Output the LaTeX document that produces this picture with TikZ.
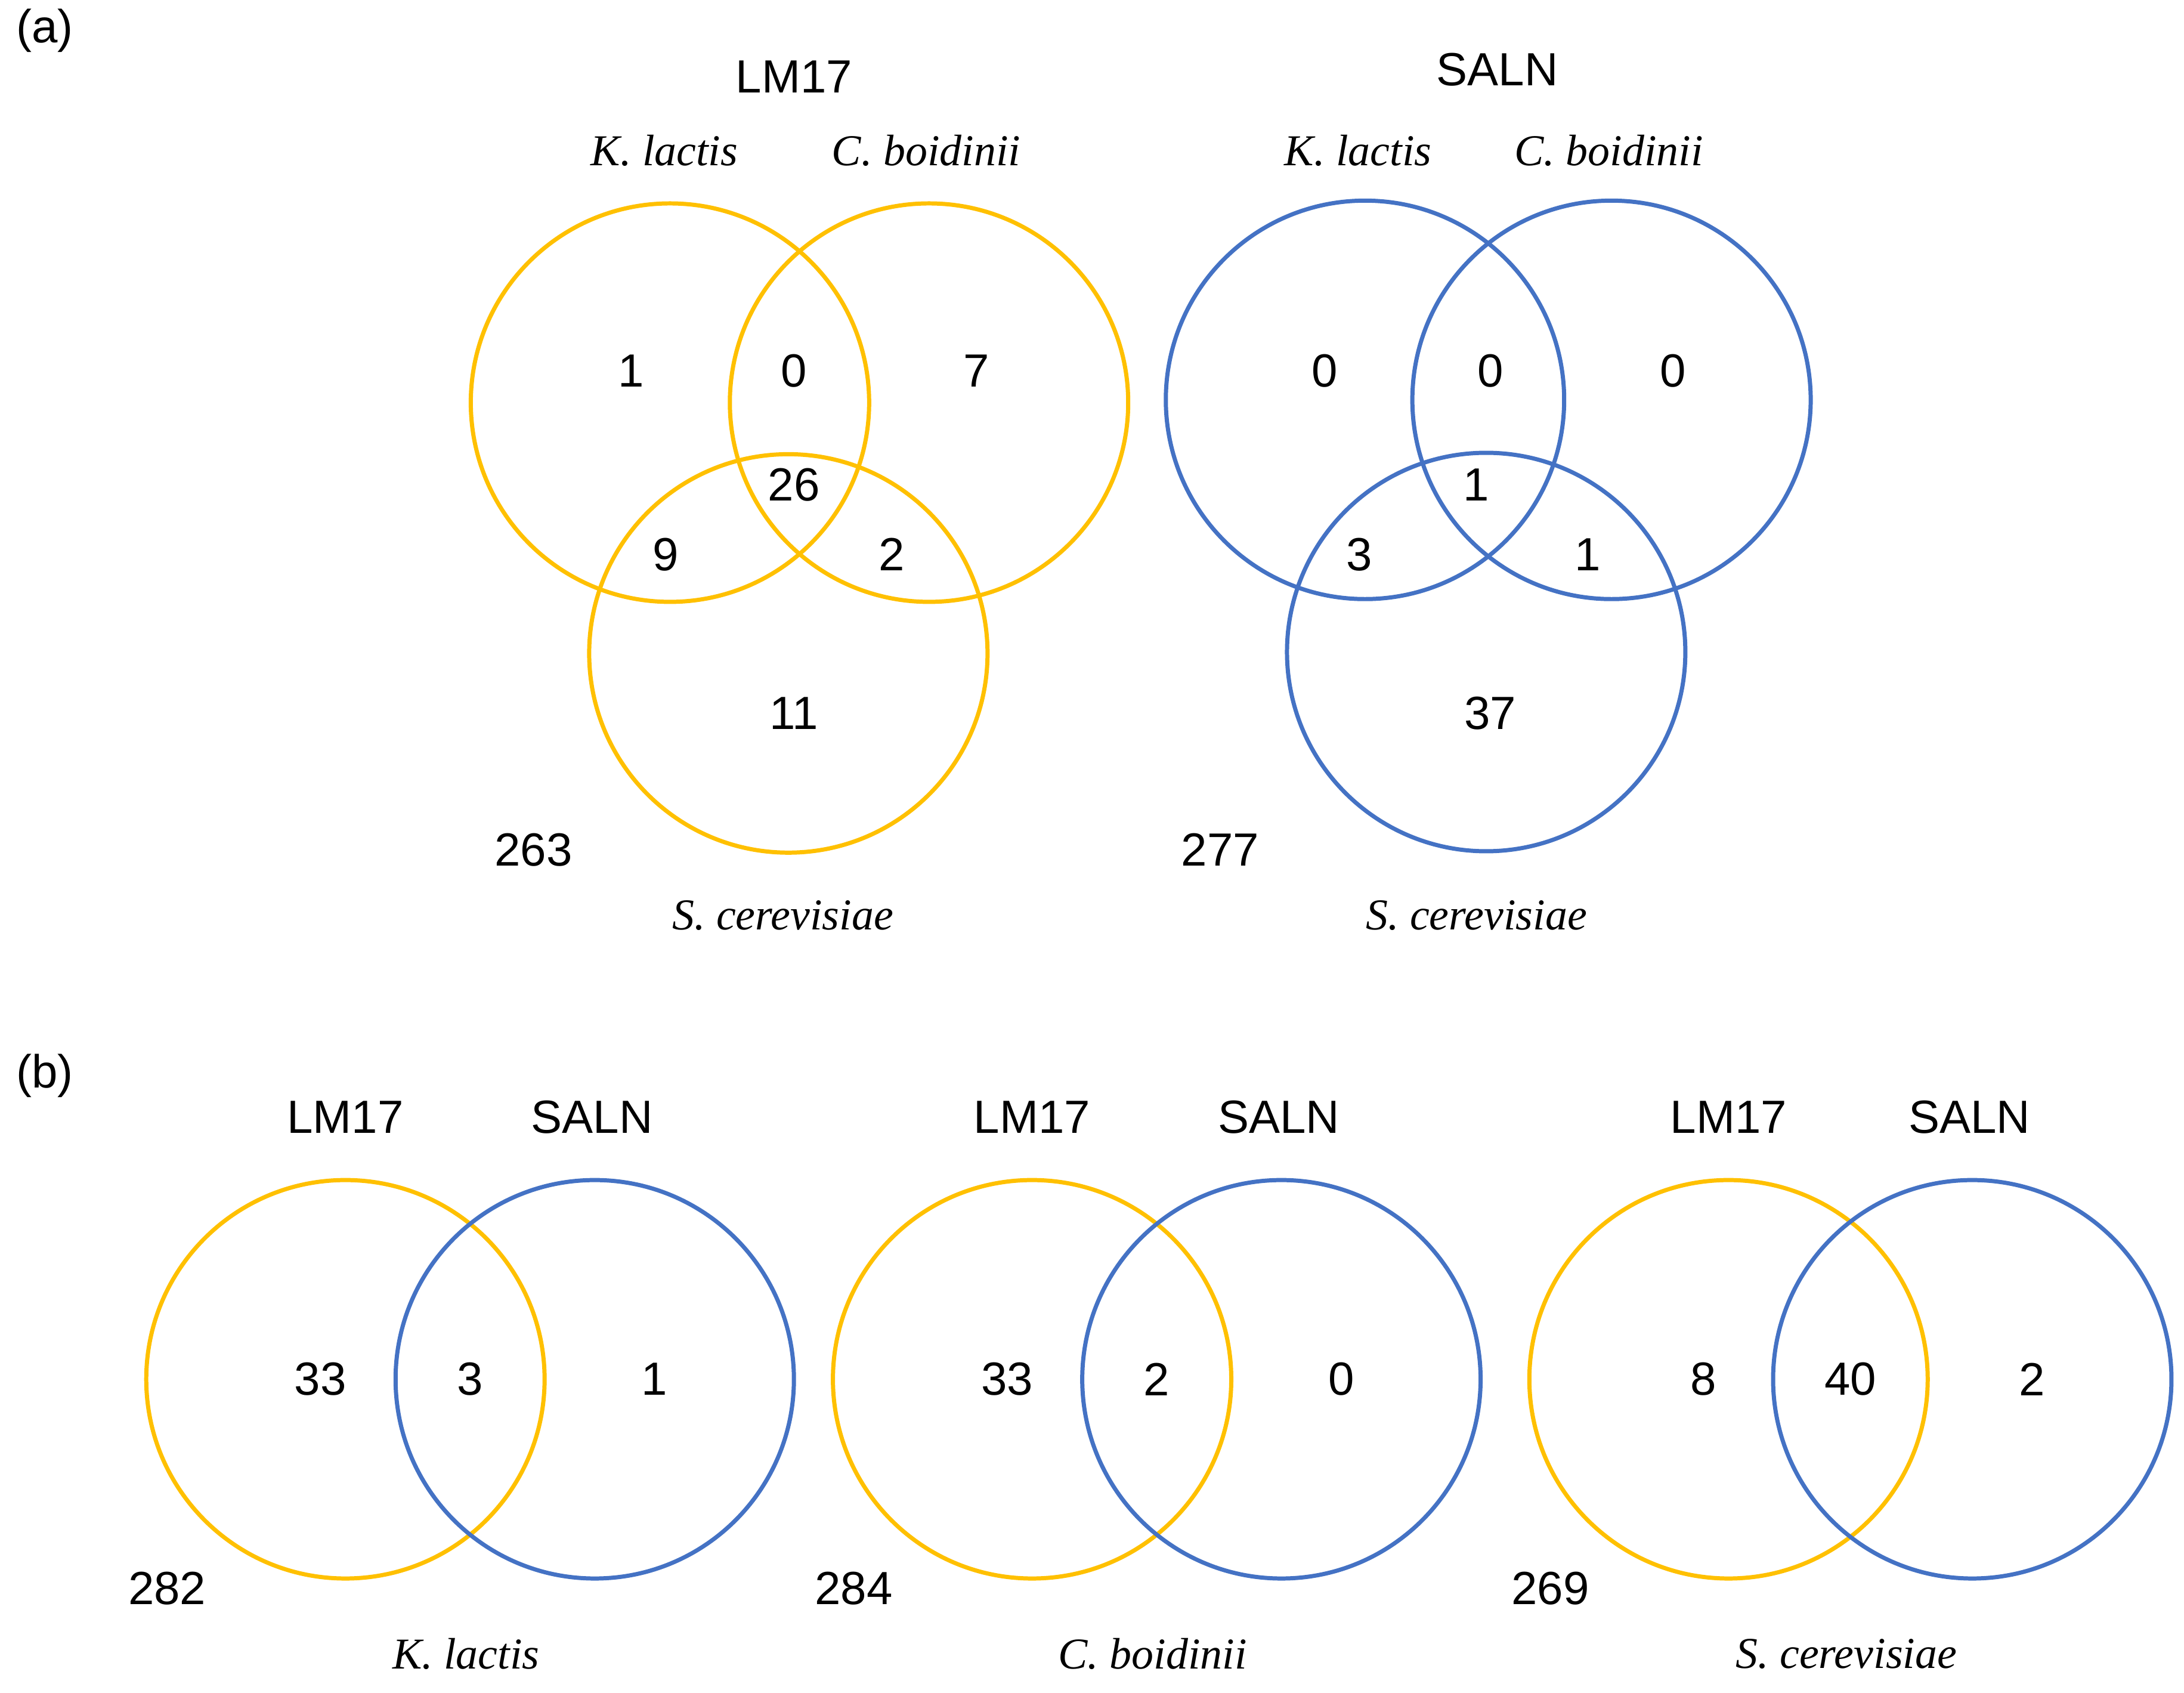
\documentclass[tikz,border=0pt]{standalone}
\usepackage{fontspec}
\setmainfont{Liberation Sans}
\newfontfamily\serifit{Liberation Serif}
\definecolor{yel}{HTML}{FFC000}
\definecolor{blu}{HTML}{4472C4}
\begin{document}
\begin{tikzpicture}[x=0.01cm,y=-0.01cm,
 yc/.style={draw=yel,line width=0.85pt,circle,minimum size=286\pgflinewidth/0.85*0.01cm/0.03cm},
 num/.style={font=\fontsize{9.5}{11}\selectfont},
 ttl/.style={font=\fontsize{9.5}{11}\selectfont},
 sp/.style={font=\fontsize{9}{11}\serifit\itshape}]
\useasboundingbox (0,0) rectangle (1568,1215);
\tikzset{ring/.style={line width=0.85pt}}
% (a)
\node[num] (la) at (32,22) {(a)};
\node[ttl] (t1) at (570,55) {LM17};
\node[ttl] (t2) at (1075,50) {SALN};
\node[sp] (s1) at (477,108) {K. lactis};
\node[sp] (s2) at (665,108) {C. boidinii};
\node[sp] (s3) at (562,657) {S. cerevisiae};
\node[sp] (s4) at (975,108) {K. lactis};
\node[sp] (s5) at (1155,108) {C. boidinii};
\node[sp] (s6) at (1060,657) {S. cerevisiae};
\draw[ring,yel] (481,289) circle (143);
\draw[ring,yel] (667,289) circle (143);
\draw[ring,yel] (566,469) circle (143);
\draw[ring,blu] (980,287) circle (143);
\draw[ring,blu] (1157,287) circle (143);
\draw[ring,blu] (1067,468) circle (143);
\node[num] (a1) at (453,266) {1};
\node[num] (a2) at (570,266) {0};
\node[num] (a3) at (701,266) {7};
\node[num] (a4) at (570,348) {26};
\node[num] (a5) at (478,398) {9};
\node[num] (a6) at (640,398) {2};
\node[num] (a7) at (570,512) {11};
\node[num] (a8) at (383,610) {263};
\node[num] (b1) at (951,266) {0};
\node[num] (b2) at (1070,266) {0};
\node[num] (b3) at (1201,266) {0};
\node[num] (b4) at (1060,348) {1};
\node[num] (b5) at (976,398) {3};
\node[num] (b6) at (1140,398) {1};
\node[num] (b7) at (1070,512) {37};
\node[num] (b8) at (876,610) {277};
% (b)
\node[num] (lb) at (32,772) {(b)};
\foreach \cx/\bx/\n/\m/\r/\o/\sp/\i in {248/427/33/3/1/282/K. lactis/1, 741/920/33/2/0/284/C. boidinii/2, 1241/1416/8/40/2/269/S. cerevisiae/3}{
 \draw[ring,yel] (\cx,990) circle (143);
 \draw[ring,blu] (\bx,990) circle (143);
 \node[ttl] (l\i) at (\cx,802) {LM17};
 \node[ttl] (r\i) at (\bx-2,802) {SALN};
 \node[num] (n\i) at (\cx-18,990) {\n};
 \node[num] (m\i) at ({(\cx+\bx)/2},990) {\m};
 \node[num] (q\i) at (\bx+43,990) {\r};
 \node[num] (o\i) at (\cx-128,1140) {\o};
 \node[sp] (p\i) at ({(\cx+\bx)/2-3},1187) {\sp};
}
\end{tikzpicture}
\end{document}
